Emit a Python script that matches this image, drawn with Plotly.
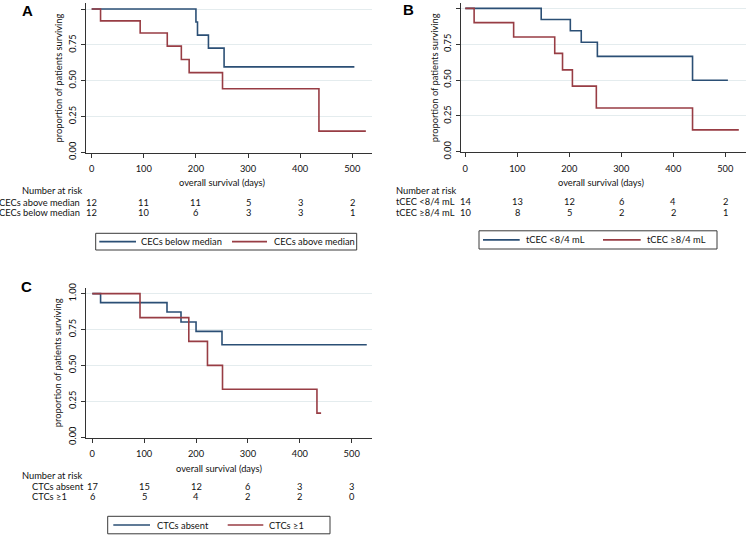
import plotly.graph_objects as go

W, H = 746, 535
FONT = "Lato"
FS = 9.3
BLUE = "#2b4f75"
RED = "#983d44"
GRID = "#e4ecee"
AX = "#333333"

# ---- data ----
xticks = [0, 100, 200, 300, 400, 500]
yticks = [0, 0.25, 0.5, 0.75, 1.0]
yticklabels = ["0.00", "0.25", "0.50", "0.75", "1.00"]

# Panel A
a_blue_t = [0, 200, 203, 224, 254, 504]
a_blue_s = [1.0, 0.909, 0.818, 0.727, 0.596, 0.596]
a_red_t = [0, 17, 93, 145, 172, 187, 251, 436, 526]
a_red_s = [1.0, 0.917, 0.833, 0.741, 0.648, 0.556, 0.444, 0.148, 0.148]
a_names = ["CECs below median", "CECs above median"]
a_risk_labels = ["CECs above median", "CECs below median"]
a_risk_row1 = [12, 11, 11, 5, 3, 2]
a_risk_row2 = [12, 10, 6, 3, 3, 1]

# Panel B
b_blue_t = [0, 146, 202, 223, 254, 437, 505]
b_blue_s = [1.0, 0.922, 0.844, 0.763, 0.665, 0.498, 0.498]
b_red_t = [0, 17, 93, 172, 187, 206, 252, 437, 526]
b_red_s = [1.0, 0.9, 0.8, 0.686, 0.571, 0.457, 0.305, 0.152, 0.152]
b_names = ["tCEC <8/4 mL", "tCEC ≥8/4 mL"]
b_risk_labels = ["tCEC <8/4 mL", "tCEC ≥8/4 mL"]
b_risk_row1 = [14, 13, 12, 6, 4, 2]
b_risk_row2 = [10, 8, 5, 2, 2, 1]

# Panel C
c_blue_t = [0, 16, 144, 171, 200, 250, 529]
c_blue_s = [1.0, 0.937, 0.872, 0.802, 0.737, 0.644, 0.644]
c_red_t = [0, 92, 186, 222, 251, 433, 441]
c_red_s = [1.0, 0.833, 0.667, 0.5, 0.333, 0.167, 0.167]
c_names = ["CTCs absent", "CTCs ≥1"]
c_risk_labels = ["CTCs absent", "CTCs ≥1"]
c_risk_row1 = [17, 15, 12, 6, 3, 3]
c_risk_row2 = [6, 5, 4, 2, 2, 0]


def px_x(p):
    return p / W


def px_y(p):
    return 1 - p / H


fig = go.Figure()
annotations = []
shapes = []

panels = [
    dict(key="", letter="A", letter_xy=(27.5, 10.5),
         xdom=(85.7, 372), xr=(-11.5, 537.8), ydom=(153.0, 3.3),
         curves=[(a_blue_t, a_blue_s, BLUE, a_names[0]), (a_red_t, a_red_s, RED, a_names[1])],
         ytitle_x=58.3, xtitle=(222, 182.3), nar=(20, 190.7), rows_y=(202, 212.3),
         row_labels=a_risk_labels, row_anchor=("right", 82),
         rows=(a_risk_row1, a_risk_row2),
         legend=dict(box=(95.7, 356.7, 233.3, 250.0),
                     items=[(99.3, 136, 140), (232, 267, 272.7)])),
    dict(key="2", letter="B", letter_xy=(408, 9.5),
         xdom=(460.7, 746), xr=(-8.8, 539.8), ydom=(152.4, 2.6),
         curves=[(b_blue_t, b_blue_s, BLUE, b_names[0]), (b_red_t, b_red_s, RED, b_names[1])],
         ytitle_x=434.7, xtitle=(600.8, 182.3), nar=(393.7, 190), rows_y=(201, 212.3),
         row_labels=b_risk_labels, row_anchor=("left", 393.7),
         rows=(b_risk_row1, b_risk_row2),
         legend=dict(box=(479, 717, 230.8, 249.0),
                     items=[(483, 519.7, 524.7), (603, 640.7, 646.3)])),
    dict(key="3", letter="C", letter_xy=(26.7, 286.5),
         xdom=(86, 372), xr=(-12.1, 539.1), ydom=(437.8, 287.9),
         curves=[(c_blue_t, c_blue_s, BLUE, c_names[0]), (c_red_t, c_red_s, RED, c_names[1])],
         ytitle_x=58.3, xtitle=(218.7, 468.8), nar=(20, 475), rows_y=(486, 496.6),
         row_labels=c_risk_labels, row_anchor=("left", 30),
         rows=(c_risk_row1, c_risk_row2),
         legend=dict(box=(107.7, 330, 516.3, 533.8),
                     items=[(113.3, 150, 156), (227.7, 263.3, 268.3)])),
]

for p in panels:
    k = p["key"]
    xa = "x" + k
    ya = "y" + k
    for t, s, col, name in p["curves"]:
        fig.add_trace(go.Scatter(
            x=t, y=s, mode="lines", line=dict(color=col, width=1.6, shape="hv"),
            name=name, xaxis=xa, yaxis=ya, showlegend=False, hoverinfo="x+y+name"))

    xdom = [px_x(p["xdom"][0]), px_x(p["xdom"][1])]
    ydom = [px_y(p["ydom"][0]), px_y(p["ydom"][1])]
    axis_x = dict(domain=xdom, range=list(p["xr"]), tickvals=xticks,
                  ticks="outside", ticklen=4, tickcolor=AX, showline=True,
                  linecolor=AX, linewidth=1, showgrid=False, zeroline=False,
                  anchor=ya, ticklabelstandoff=3, automargin=False,
                  tickfont=dict(family=FONT, size=FS, color="#111"))
    axis_y = dict(domain=ydom, range=[-0.005, 1.04], tickvals=yticks,
                  ticktext=yticklabels, tickangle=-90,
                  ticks="outside", ticklen=4, tickcolor=AX, showline=True,
                  linecolor=AX, linewidth=1, showgrid=True, gridcolor=GRID,
                  gridwidth=1, zeroline=False, anchor=xa, ticklabelstandoff=1,
                  automargin=False,
                  tickfont=dict(family=FONT, size=FS, color="#111"))
    fig.update_layout(**{"xaxis" + k: axis_x, "yaxis" + k: axis_y})

    # panel letter
    annotations.append(dict(text="<b>%s</b>" % p["letter"], xref="paper", yref="paper",
                            x=px_x(p["letter_xy"][0]), y=px_y(p["letter_xy"][1]),
                            showarrow=False, xanchor="center", yanchor="middle",
                            font=dict(family="Liberation Sans", size=15, color="#000")))
    # y title
    yc = (p["ydom"][0] + p["ydom"][1]) / 2
    annotations.append(dict(text="proportion of patients surviving", xref="paper", yref="paper",
                            x=px_x(p["ytitle_x"]), y=px_y(yc), textangle=-90,
                            showarrow=False, xanchor="center", yanchor="middle",
                            font=dict(family=FONT, size=FS, color="#111")))
    # x title
    annotations.append(dict(text="overall survival (days)", xref="paper", yref="paper",
                            x=px_x(p["xtitle"][0]), y=px_y(p["xtitle"][1]),
                            showarrow=False, xanchor="center", yanchor="middle",
                            font=dict(family=FONT, size=FS, color="#111")))
    # number at risk
    annotations.append(dict(text="Number at risk", xref="paper", yref="paper",
                            x=px_x(p["nar"][0]), y=px_y(p["nar"][1]),
                            showarrow=False, xanchor="left", yanchor="middle",
                            font=dict(family=FONT, size=FS, color="#111")))
    anc, ax_px = p["row_anchor"]
    for lab, ry, row in zip(p["row_labels"], p["rows_y"], p["rows"]):
        annotations.append(dict(text=lab, xref="paper", yref="paper",
                                x=px_x(ax_px), y=px_y(ry),
                                showarrow=False, xanchor=anc, yanchor="middle",
                                font=dict(family=FONT, size=FS, color="#111")))
        for xv, n in zip(xticks, row):
            annotations.append(dict(text=str(n), xref=xa, yref="paper",
                                    x=xv, y=px_y(ry),
                                    showarrow=False, xanchor="center", yanchor="middle",
                                    font=dict(family=FONT, size=FS, color="#111")))
    # legend box (drawn)
    x0, x1, y0, y1 = p["legend"]["box"]
    shapes.append(dict(type="rect", xref="paper", yref="paper",
                       x0=px_x(x0), x1=px_x(x1), y0=px_y(y1), y1=px_y(y0),
                       line=dict(color="#3a3a3a", width=1), fillcolor="white", layer="above"))
    ym = (y0 + y1) / 2
    for (lx0, lx1, tx), (_, _, col, name) in zip(p["legend"]["items"], p["curves"]):
        shapes.append(dict(type="line", xref="paper", yref="paper",
                           x0=px_x(lx0), x1=px_x(lx1), y0=px_y(ym), y1=px_y(ym),
                           line=dict(color=col, width=1.6), layer="above"))
        annotations.append(dict(text=name, xref="paper", yref="paper",
                                x=px_x(tx), y=px_y(ym), showarrow=False,
                                xanchor="left", yanchor="middle", borderpad=0,
                                font=dict(family=FONT, size=FS, color="#111")))

fig.update_layout(
    template="none",
    width=W, height=H, margin=dict(l=0, r=0, t=0, b=0, autoexpand=False),
    paper_bgcolor="white", plot_bgcolor="white",
    showlegend=False, annotations=annotations, shapes=shapes,
    font=dict(family=FONT, size=FS, color="#111"),
)

fig.write_html("out.html", config={"displayModeBar": False},
               post_script="document.body.style.margin='0';document.body.style.padding='0';")
